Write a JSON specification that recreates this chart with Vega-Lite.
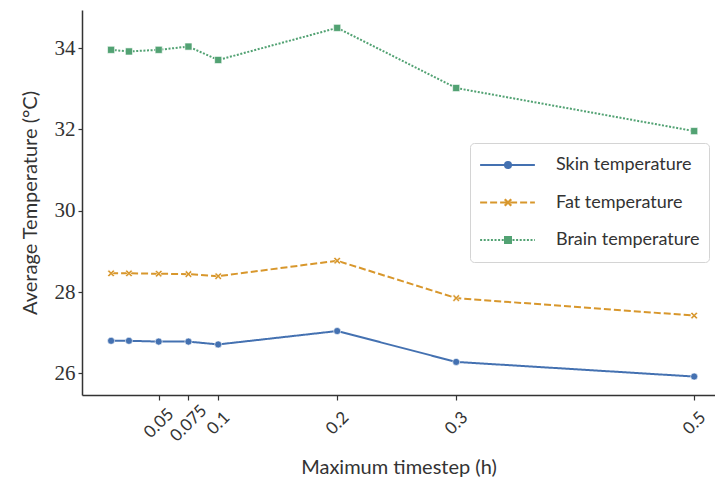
{
  "$schema": "https://vega.github.io/schema/vega-lite/v6.json",
  "width": 633,
  "height": 385,
  "autosize": {"type": "none"},
  "padding": {"left": 82, "top": 10, "right": 0, "bottom": 87},
  "background": "white",
  "config": {"view": {"stroke": null}, "font": "Lato"},
  "data": {
    "values": [
      {"t": 0.01, "series": "Skin temperature", "temp": 26.80},
      {"t": 0.025, "series": "Skin temperature", "temp": 26.80},
      {"t": 0.05, "series": "Skin temperature", "temp": 26.78},
      {"t": 0.075, "series": "Skin temperature", "temp": 26.78},
      {"t": 0.1, "series": "Skin temperature", "temp": 26.71},
      {"t": 0.2, "series": "Skin temperature", "temp": 27.04},
      {"t": 0.3, "series": "Skin temperature", "temp": 26.28},
      {"t": 0.5, "series": "Skin temperature", "temp": 25.92},
      {"t": 0.01, "series": "Fat temperature", "temp": 28.46},
      {"t": 0.025, "series": "Fat temperature", "temp": 28.46},
      {"t": 0.05, "series": "Fat temperature", "temp": 28.45},
      {"t": 0.075, "series": "Fat temperature", "temp": 28.44},
      {"t": 0.1, "series": "Fat temperature", "temp": 28.39},
      {"t": 0.2, "series": "Fat temperature", "temp": 28.77},
      {"t": 0.3, "series": "Fat temperature", "temp": 27.85},
      {"t": 0.5, "series": "Fat temperature", "temp": 27.42},
      {"t": 0.01, "series": "Brain temperature", "temp": 33.96},
      {"t": 0.025, "series": "Brain temperature", "temp": 33.92},
      {"t": 0.05, "series": "Brain temperature", "temp": 33.96},
      {"t": 0.075, "series": "Brain temperature", "temp": 34.04},
      {"t": 0.1, "series": "Brain temperature", "temp": 33.71},
      {"t": 0.2, "series": "Brain temperature", "temp": 34.50},
      {"t": 0.3, "series": "Brain temperature", "temp": 33.02},
      {"t": 0.5, "series": "Brain temperature", "temp": 31.96}
    ]
  },
  "encoding": {
    "x": {
      "field": "t",
      "type": "quantitative",
      "scale": {"domain": [-0.01445, 0.5175], "nice": false, "zero": false},
      "axis": {
        "values": [0.05, 0.075, 0.1, 0.2, 0.3, 0.5],
        "labelExpr": "datum.value + ''",
        "title": "Maximum timestep (h)",
        "titleFont": "Lato",
        "titleFontSize": 20,
        "titleFontWeight": "normal",
        "titleColor": "#333333",
        "titlePadding": 13,
        "labelAngle": -45,
        "labelAlign": "center",
        "labelBaseline": "middle",
        "labelOverlap": false,
        "labelFont": "Lato",
        "labelFontSize": 17,
        "labelColor": "#333333",
        "labelPadding": 23,
        "grid": false,
        "domainColor": "#333333",
        "domainWidth": 1.5,
        "tickColor": "#333333",
        "tickSize": 5,
        "tickWidth": 1.2
      }
    },
    "y": {
      "field": "temp",
      "type": "quantitative",
      "scale": {"domain": [25.466, 34.94], "nice": false, "zero": false},
      "axis": {
        "values": [26, 28, 30, 32, 34],
        "format": "d",
        "title": "Average Temperature (°C)",
        "titleFont": "Lato",
        "titleFontSize": 20,
        "titleFontWeight": "normal",
        "titleColor": "#333333",
        "titlePadding": 14,
        "labelFont": "Liberation Serif",
        "labelFontSize": 21,
        "labelColor": "#333333",
        "labelPadding": 3,
        "grid": false,
        "domainColor": "#333333",
        "domainWidth": 1.5,
        "tickColor": "#333333",
        "tickSize": 4,
        "tickWidth": 1.2
      }
    }
  },
  "layer": [
    {
      "mark": {"type": "line", "strokeWidth": 2},
      "encoding": {
        "color": {
          "field": "series",
          "type": "nominal",
          "scale": {
            "domain": ["Skin temperature", "Fat temperature", "Brain temperature"],
            "range": ["#4471b1", "#d8972c", "#52a273"]
          },
          "legend": {
            "title": null,
            "orient": "none",
            "legendX": 388,
            "legendY": 133,
            "padding": 9,
            "strokeColor": "#d4d4d4",
            "fillColor": "white",
            "cornerRadius": 4,
            "symbolType": "stroke",
            "symbolSize": 3000,
            "symbolStrokeWidth": 2,
            "clipHeight": 26,
            "labelFont": "Lato",
            "labelFontSize": 18,
            "labelColor": "#333333",
            "labelOffset": 20,
            "rowPadding": 11.5,
            "labelLimit": 300
          }
        },
        "strokeDash": {
          "field": "series",
          "type": "nominal",
          "scale": {
            "domain": ["Skin temperature", "Fat temperature", "Brain temperature"],
            "range": [[1, 0], [7, 3], [2, 1.6]]
          }
        }
      }
    },
    {
      "mark": {"type": "point", "filled": true, "opacity": 1, "size": 50, "stroke": "white", "strokeWidth": 0.6},
      "encoding": {
        "fill": {
          "field": "series",
          "type": "nominal",
          "scale": {
            "domain": ["Skin temperature", "Fat temperature", "Brain temperature", "~"],
            "range": ["#4471b1", "#d8972c", "#52a273", "#999999"]
          },
          "legend": {
            "title": null,
            "orient": "none",
            "legendX": 417,
            "legendY": 142,
            "padding": 0,
            "values": ["Skin temperature", "Fat temperature", "Brain temperature"],
            "clipHeight": 26,
            "labelFont": "Lato",
            "labelFontSize": 18,
            "labelExpr": "''",
            "rowPadding": 11.5,
            "symbolSize": 65,
            "symbolStrokeWidth": 0
          }
        },
        "shape": {
          "field": "series",
          "type": "nominal",
          "scale": {
            "domain": ["Skin temperature", "Fat temperature", "Brain temperature", "~"],
            "range": ["circle", "M-1,-0.6L-0.6,-1L0,-0.4L0.6,-1L1,-0.6L0.4,0L1,0.6L0.6,1L0,0.4L-0.6,1L-1,0.6L-0.4,0Z", "square", "circle"]
          },
          "legend": {
            "title": null,
            "orient": "none",
            "legendX": 417,
            "legendY": 142,
            "padding": 0,
            "values": ["Skin temperature", "Fat temperature", "Brain temperature"],
            "clipHeight": 26,
            "labelFont": "Lato",
            "labelFontSize": 18,
            "labelExpr": "''",
            "rowPadding": 11.5,
            "symbolSize": 65,
            "symbolStrokeWidth": 0
          }
        }
      }
    }
  ]
}
